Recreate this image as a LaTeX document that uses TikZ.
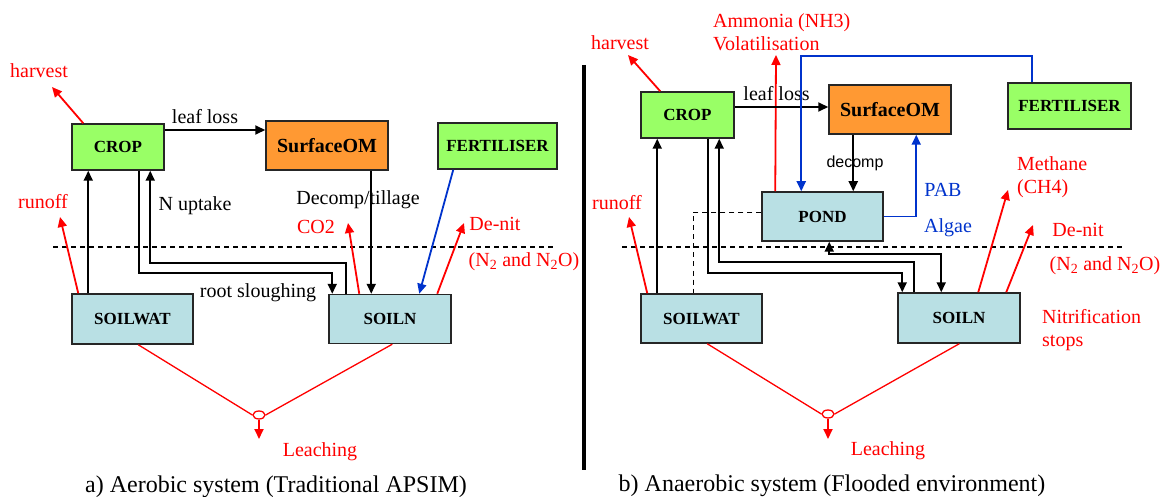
\documentclass[tikz,border=0pt]{standalone}
\usepackage{fontspec}
\setmainfont{Liberation Serif}
\newfontfamily\arialfont{Liberation Sans}
\usetikzlibrary{arrows.meta,shapes.geometric}

\definecolor{cropgreen}{RGB}{153,255,102}
\definecolor{omorange}{RGB}{255,153,51}
\definecolor{soilblue}{RGB}{185,224,228}
\definecolor{fertblue}{RGB}{0,51,204}

\begin{document}
\begin{tikzpicture}[x=1pt, y=-1pt,
    box/.style={draw=black!85, line width=1.5pt, inner sep=0pt, font=\fontsize{17}{19}\selectfont\bfseries},
    flow/.style={line width=1.8pt, -{Triangle[length=10pt,width=9pt]}},
    biflow/.style={line width=1.8pt, {Triangle[length=10pt,width=9pt]}-{Triangle[length=10pt,width=9pt]}},
    redflow/.style={flow, red},
    blueflow/.style={flow, fertblue},
    leachline/.style={red, line width=1.3pt},
    leachknot/.style={ellipse, draw=red, fill=white, line width=1.3pt, minimum width=12pt, minimum height=8pt, inner sep=0pt},
    surfline/.style={line width=1.3pt, dash pattern=on 5pt off 4pt},
    lbl/.style={font=\fontsize{20}{23}\selectfont, inner sep=0pt},
    redlbl/.style={lbl, text=red},
    bluelbl/.style={lbl, text=fertblue},
    caption/.style={font=\fontsize{24}{26}\selectfont, inner sep=0pt}]
    \useasboundingbox (0,0) rectangle (1162,497);

    % a) Aerobic system
    \node[box, fill=cropgreen, minimum width=92pt, minimum height=46pt] (cropA) at (118,147) {CROP};
    \node[box, fill=omorange, minimum width=122pt, minimum height=49pt, font=\fontsize{20}{22}\selectfont\bfseries] (somA) at (327,145.5) {SurfaceOM};
    \node[box, fill=cropgreen, minimum width=119pt, minimum height=46pt] (fertA) at (497.5,146) {FERTILISER};
    \node[box, fill=soilblue, minimum width=121pt, minimum height=50pt] (swA) at (132.5,319) {SOILWAT};
    \node[box, fill=soilblue, minimum width=122pt, minimum height=49pt, right of=swA, node distance=257.5pt] (snA) {SOILN};
    \node[leachknot] (leachA) at (259,415) {};

    \node[redlbl] (harvA) at (39,71) {harvest};
    \node[redlbl] (runA) at (43,202) {runoff};
    \node[lbl] (uptA) at (195,206) {N uptake};
    \node[lbl] (tillA) at (358,200) {Decomp/tillage};
    \node[redlbl] (co2A) at (316,227) {CO2};
    \node[redlbl] (denitA) at (495,224) {De-nit};
    \node[redlbl] (gasA) at (524,262) {(N\textsubscript{2} and N\textsubscript{2}O)};
    \node[lbl] (rootA) at (258,293) {root sloughing};
    \node[redlbl] (leachlblA) at (320,452) {Leaching};
    \node[caption] (capA) at (276,487) {a) Aerobic system (Traditional APSIM)};

    \coordinate (hvTipA) at (52,87);
    \coordinate (roTipA) at (60,217);
    \coordinate (co2TipA) at (348,223);
    \coordinate (dnTipA) at (464,223);
    \coordinate (lcTipA) at (259,439);

    % surface line
    \draw[surfline] (53,247) -- (555,247);

    % arrows
    \draw[redflow] ([xshift=12pt]cropA.north west) -- (hvTipA);
    \draw[flow] ([yshift=17pt]cropA.east) coordinate (llA) -- (llA -| somA.west)
        node[lbl, midway, above=5pt, xshift=-10pt] (leafA) {leaf loss};
    \draw[flow] ([xshift=17pt]swA.north west) coordinate (upA) -- (upA |- cropA.south);
    \draw[redflow] ([xshift=7pt]swA.north west) -- (roTipA);
    \draw[flow] ([xshift=68pt]cropA.south west) -- ++(0,102) -| ([xshift=4pt]snA.north west);
    \draw[flow] ([xshift=18pt]snA.north west) -- ++(0,-31) -| ([xshift=79pt]cropA.south west);
    \draw[redflow] ([xshift=31pt]snA.north west) -- (co2TipA);
    \draw[flow] ([xshift=106pt]somA.south west) coordinate (dcA) -- (dcA |- snA.north);
    \draw[blueflow] ([xshift=16pt]fertA.south west) -- ([xshift=91pt]snA.north west);
    \draw[redflow] ([xshift=109pt]snA.north west) -- (dnTipA);
    \draw[leachline] ([xshift=67pt]swA.south west) -- (leachA.west);
    \draw[leachline] ([xshift=64pt]snA.south west) -- (leachA.east);
    \draw[redflow] (leachA.south) -- (lcTipA);

    % separator
    \draw[line width=4pt] (584,65) -- (584,470);

    % b) Anaerobic system
    \node[box, fill=cropgreen, minimum width=93pt, minimum height=46pt] (cropB) at (687.5,115) {CROP};
    \node[box, fill=omorange, minimum width=122pt, minimum height=49pt, font=\fontsize{20}{22}\selectfont\bfseries] (somB) at (890,109.5) {SurfaceOM};
    \node[box, fill=cropgreen, minimum width=123pt, minimum height=46pt] (fertB) at (1069.5,106) {FERTILISER};
    \node[box, fill=soilblue, minimum width=121pt, minimum height=49pt] (pond) at (822.5,216.5) {POND};
    \node[box, fill=soilblue, minimum width=121pt, minimum height=49pt] (swB) at (701.5,318.5) {SOILWAT};
    \node[box, fill=soilblue, minimum width=122pt, minimum height=50pt] (snB) at (959,318) {SOILN};
    \node[leachknot] (leachB) at (828,414) {};

    \node[redlbl] (harvB) at (620,43) {harvest};
    \node[redlbl, anchor=west, align=left] (nh3) at (713,32.5) {Ammonia (NH3)\\Volatilisation};
    \node[lbl, font=\fontsize{16}{18}\arialfont] (decB) at (855,163) {decomp};
    \node[bluelbl] (pab) at (943,190) {PAB};
    \node[bluelbl] (algae) at (948,228) {Algae};
    \node[redlbl, anchor=west, align=left] (ch4) at (1017,177) {Methane\\(CH4)};
    \node[redlbl] (runB) at (617,203) {runoff};
    \node[redlbl] (denitB) at (1078,230) {De-nit};
    \node[redlbl] (gasB) at (1105,266) {(N\textsubscript{2} and N\textsubscript{2}O)};
    \node[redlbl, anchor=west, align=left] (nitri) at (1042,330) {Nitrification\\stops};
    \node[redlbl] (leachlblB) at (888,451) {Leaching};
    \node[caption] (capB) at (832,486) {b) Anaerobic system (Flooded environment)};

    \coordinate (hvTipB) at (628,55);
    \coordinate (nhTip) at (776,55);
    \coordinate (roTipB) at (629,217);
    \coordinate (chTip) at (1008,190);
    \coordinate (dnTipB) at (1033,225);
    \coordinate (lcTipB) at (828,439);

    % surface line
    \draw[surfline] (622,247) -- (1123,247);

    % arrows
    \draw[redflow] ([xshift=20pt]cropB.north west) -- (hvTipB);
    \draw[redflow] ([xshift=14pt]pond.north west) -- (nhTip);
    \draw[flow] ([yshift=8pt]cropB.east) coordinate (llB) -- (llB -| somB.west)
        node[lbl, midway, above=5pt, xshift=-5pt] (leafB) {leaf loss};
    \draw[blueflow] ([xshift=25pt]fertB.north west) -- ++(0,-26) -| ([xshift=40pt]pond.north west);
    \draw[flow] ([xshift=25pt]somB.south west) coordinate (dcB) -- (dcB |- pond.north);
    \draw[blueflow] (pond.east) -| ([xshift=88pt]somB.south west);
    \draw[flow] ([xshift=17pt]swB.north west) coordinate (upB) -- (upB |- cropB.south);
    \draw[redflow] ([xshift=7pt]swB.north west) -- (roTipB);
    \draw[surfline] ([yshift=4pt]pond.west) -| ([xshift=53pt]swB.north west);
    \draw[flow] ([xshift=68pt]cropB.south west) -- ++(0,134) -| ([xshift=5pt]snB.north west);
    \draw[flow] ([xshift=17pt]snB.north west) -- ++(0,-30) -| ([xshift=79pt]cropB.south west);
    \draw[biflow] ([xshift=44pt]snB.north west) -- ++(0,-38) -| ([xshift=68pt]pond.south west);
    \draw[redflow] ([xshift=81pt]snB.north west) -- (chTip);
    \draw[redflow] ([xshift=109pt]snB.north west) -- (dnTipB);
    \draw[leachline] ([xshift=67pt]swB.south west) -- (leachB.west);
    \draw[leachline] ([xshift=62pt]snB.south west) -- (leachB.east);
    \draw[redflow] (leachB.south) -- (lcTipB);
\end{tikzpicture}
\end{document}
